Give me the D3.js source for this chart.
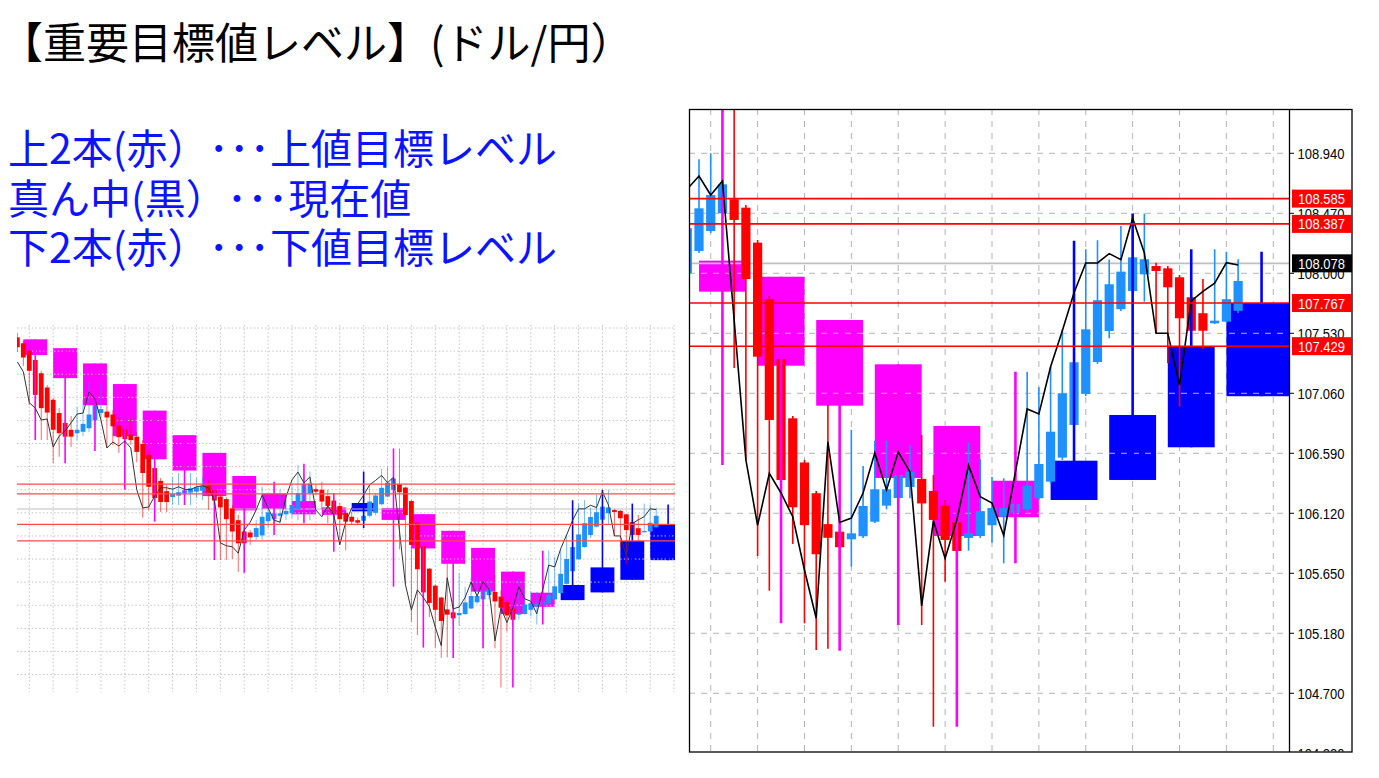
<!DOCTYPE html>
<html><head><meta charset="utf-8">
<script src="https://cdn.jsdelivr.net/npm/d3@7"></script>
<style>body{margin:0;background:#fff;}svg{display:block}</style>
</head><body>
<svg id="c" width="1379" height="778"></svg>
<script>
// ---------------- DATA ----------------
const titleText = "【重要目標値レベル】(ドル/円）";
const noteLines = ["上2本(赤）･･･上値目標レベル", "真ん中(黒）･･･現在値", "下2本(赤）･･･下値目標レベル"];

// bar index of first candle (bars run -2 .. 105)
const firstBar = -2;
const opens = [111.57,111.45,111.30,111.11,110.84,110.55,110.30,110.03,109.83,109.69,109.62,109.65,109.72,109.88,110.03,110.06,110.00,109.77,109.71,109.59,
  109.55,109.40,109.18,108.91,108.65,108.44,108.32,108.35,108.40,108.41,108.43,108.45,108.55,108.47,108.33,108.28,108.09,107.85,107.62,107.60,
  107.51,107.54,107.83,107.87,107.94,107.97,107.99,108.07,108.23,108.40,108.48,108.47,108.34,108.25,108.14,108.00,107.92,107.85,107.84,107.94,
  108.000,108.175,108.331,108.470,108.580,108.514,108.240,107.799,107.329,106.864,106.518,106.277,106.035,105.976,105.916,105.940,106.054,106.180,106.240,106.326,
  106.390,106.295,106.180,106.050,105.927,105.942,106.026,106.093,106.124,106.151,106.238,106.368,106.556,106.812,107.055,107.305,107.548,107.719,107.861,107.992,
  108.057,108.039,107.969,107.812,107.687,107.608,107.621,107.706];
const highs = [111.66,111.50,111.35,111.15,110.89,110.60,110.34,110.13,109.89,109.97,110.15,110.30,110.66,110.40,110.64,110.19,110.09,109.95,109.79,109.93,
  109.64,109.48,109.28,109.03,108.71,108.57,108.73,108.81,108.71,108.81,108.71,108.73,108.67,108.55,108.40,108.32,108.16,107.96,107.69,107.65,
  107.85,108.53,108.26,108.16,108.47,108.36,108.60,108.97,108.80,108.84,108.57,108.63,108.47,108.32,108.20,108.06,108.02,107.90,108.16,108.57,
  108.402,108.893,108.940,108.731,109.310,108.535,108.261,107.822,107.352,106.882,106.538,106.295,106.968,105.997,106.773,106.491,106.689,106.689,106.655,106.655,
  106.733,106.420,106.224,106.107,106.673,106.544,106.407,106.394,106.303,107.229,107.107,107.268,107.561,107.517,108.188,108.259,108.108,108.371,108.339,108.468,
  108.082,108.057,107.987,107.854,107.955,108.188,108.169,108.110];
const lows = [111.27,110.99,110.19,109.99,109.48,109.48,109.01,109.14,109.38,109.34,109.48,109.56,109.64,109.79,109.93,109.32,109.38,109.22,109.38,109.38,
  109.03,107.90,108.06,108.16,108.02,108.02,108.16,108.16,108.26,108.16,108.30,108.26,108.06,108.16,107.04,107.04,107.06,106.80,107.24,107.35,
  107.45,107.45,107.69,107.75,107.79,107.85,107.90,107.85,108.16,107.85,108.36,108.06,107.79,107.85,107.35,107.24,107.75,107.75,107.75,107.90,
  107.948,108.159,108.316,108.457,107.258,106.538,105.786,105.514,106.224,105.880,105.258,105.049,105.059,105.754,105.702,105.927,106.044,106.151,106.224,106.238,
  105.245,104.448,105.584,105.715,105.827,105.927,105.890,105.728,106.068,106.130,106.224,106.350,106.538,106.788,107.039,107.290,107.491,107.705,107.846,107.778,
  107.530,107.295,106.955,106.994,107.407,107.603,107.611,107.689];
const closes = [111.37,111.16,110.89,110.40,110.13,110.04,109.69,109.62,109.55,109.55,109.69,109.81,110.00,110.19,110.11,109.94,109.76,109.54,109.50,109.48,
  109.24,108.81,108.53,108.30,108.22,108.22,108.38,108.42,108.46,108.50,108.52,108.55,108.41,108.25,108.11,107.87,107.62,107.38,107.38,107.50,
  107.69,107.92,108.01,107.99,107.99,108.04,108.16,108.40,108.59,108.59,108.43,108.23,108.14,107.98,107.87,107.82,107.82,107.80,107.94,108.23,
  108.353,108.509,108.613,108.697,108.418,107.955,107.347,106.851,106.381,106.167,106.027,105.799,105.928,105.854,105.963,106.177,106.308,106.308,106.420,106.446,
  106.197,106.068,105.911,105.825,105.963,106.137,106.162,106.162,106.193,106.336,106.506,106.759,107.060,107.303,107.561,107.789,107.914,108.013,108.125,108.110,
  108.018,107.890,107.648,107.550,107.550,107.629,107.797,107.940];
// black line (one value per bar)
const lineValues = [111.07,110.87,110.24,110.13,109.89,109.91,109.34,109.56,109.67,109.83,110.01,110.03,110.46,110.32,109.89,109.32,109.44,109.36,109.46,109.32,
  108.47,108.10,108.12,108.34,108.51,108.51,108.48,108.53,108.48,108.47,108.53,108.55,108.51,108.26,107.39,107.33,107.31,107.18,107.65,107.81,
  108.06,108.36,108.10,107.85,107.81,108.32,108.67,108.83,108.61,108.73,108.06,107.92,108.14,107.96,107.35,107.81,108.10,108.18,108.36,108.57,
  108.660,108.762,108.613,108.723,107.634,106.538,106.025,106.432,106.279,106.093,105.676,105.298,106.679,106.048,106.083,106.279,106.592,106.303,106.600,106.444,
  105.394,106.060,105.768,106.068,106.495,106.250,106.201,105.946,106.444,106.937,106.898,107.268,107.550,107.848,108.081,108.081,108.154,108.107,108.431,108.159,
  107.530,107.530,107.125,107.783,107.859,107.922,108.083,108.065];

// higher-timeframe boxes: first bar, last bar, open, high, low, close
const boxStart = [-1,4,9,14,19,24,29,34,39,44,49,54,59,64,69,74,79,84,89,94,99,104];
const boxEnd   = [3,8,13,18,23,28,33,38,43,48,53,58,63,68,73,78,83,88,93,98,103,110];
const boxOpen  = [111.53,111.35,111.04,110.62,110.08,109.58,109.22,108.75,108.39,108.24,108.11,108.03,108.099,107.973,107.634,107.287,106.804,106.375,106.224,106.381,106.637,107.037];
const boxHigh  = [111.53,111.35,111.04,110.62,110.08,109.58,109.22,108.75,108.63,109.00,108.40,108.84,109.310,107.973,107.634,107.287,106.804,107.229,108.255,108.468,108.188,108.169];
const boxLow   = [109.48,109.01,109.26,108.47,107.82,108.16,107.04,106.78,107.55,107.79,107.21,107.69,106.498,105.258,105.044,105.245,104.448,105.728,106.224,106.381,106.637,107.037];
const boxClose = [111.21,110.74,110.19,109.56,109.09,108.86,108.34,108.05,108.08,107.97,107.96,108.20,107.856,107.276,106.963,106.397,105.942,106.089,106.532,106.890,107.429,107.767];

// target levels and current price
const targetLevels = [108.585, 108.387, 107.767, 107.429];
const targetLabels = ["108.585", "108.387", "107.767", "107.429"];
const currentPrice = 108.078;
const currentLabel = "108.078";

// price axis ticks (large chart)
const priceTicks = [108.94,108.47,108.00,107.53,107.06,106.59,106.12,105.65,105.18,104.71,104.24];
const priceTickLabels = ["108.940","108.470","108.000","107.530","107.060","106.590","106.120","105.650","105.180","104.700","104.230"];
// grid prices for small chart
const smallGridPrices = [111.76,111.29,110.82,110.35,109.88,109.41,108.94,108.47,108.00,107.53,107.06,106.59,106.12,105.65,105.18,104.71];
const bigGridBars = [60,64,68,72,76,80,84,88,92,96,100,104,108];
const smallGridBars = [0,4,8,12,16,20,24,28,32,36,40,44,48,52,56,60,64,68,72,76,80,84,88,92,96,100,104,108];

// ---------------- BUILD ----------------
const bars = opens.map((o, i) => ({i: i + firstBar, o, h: highs[i], l: lows[i], c: closes[i], m: lineValues[i]}));
const boxes = boxStart.map((s, i) => ({s, e: boxEnd[i], o: boxOpen[i], h: boxHigh[i], l: boxLow[i], c: boxClose[i]}));

const svg = d3.select('#c');
const CJK = '"Noto Sans CJK JP","Noto Sans CJK SC",sans-serif';

svg.append('text').attr('x', 0).attr('y', 59).attr('font-family', CJK).attr('font-size', 43)
  .attr('fill', '#000').text(titleText);
const noteY = [164, 214, 263];
noteLines.forEach((t, i) => svg.append('text').attr('x', 8).attr('y', noteY[i]).attr('font-family', CJK)
  .attr('font-size', 41).attr('fill', '#0a14ff').text(t));

const defs = svg.append('defs');

function drawChart(cfg) {
  const {x, y, clip, id, bodyW, wickW, boxWickW, grid, lineW, lineColor, levelW, wickOpacity} = cfg;
  defs.append('clipPath').attr('id', id).append('rect')
    .attr('x', clip[0]).attr('y', clip[1]).attr('width', clip[2] - clip[0]).attr('height', clip[3] - clip[1]);
  const g = svg.append('g').attr('clip-path', `url(#${id})`);

  // vertical grid
  g.append('g').selectAll('line').data(cfg.gridBars).join('line')
    .attr('x1', d => x(d)).attr('x2', d => x(d)).attr('y1', clip[1]).attr('y2', clip[3])
    .attr('stroke', grid.color).attr('stroke-width', 1).attr('stroke-dasharray', grid.dash);

  // boxes (background)
  g.append('g').selectAll('rect').data(boxes).join('rect')
    .attr('x', d => x(d.s)).attr('width', d => x(d.e) - x(d.s))
    .attr('y', d => y(Math.max(d.o, d.c))).attr('height', d => Math.max(1, y(Math.min(d.o, d.c)) - y(Math.max(d.o, d.c))))
    .attr('fill', d => d.c >= d.o ? '#0000ff' : '#ff00ff');

  // horizontal grid
  g.append('g').selectAll('line').data(cfg.gridPrices).join('line')
    .attr('x1', clip[0]).attr('x2', clip[2]).attr('y1', d => y(d)).attr('y2', d => y(d))
    .attr('stroke', grid.color).attr('stroke-width', 1).attr('stroke-dasharray', grid.dash);

  // current price line
  g.append('line').attr('x1', clip[0]).attr('x2', clip[2]).attr('y1', y(currentPrice)).attr('y2', y(currentPrice))
    .attr('stroke', '#c0c0c0').attr('stroke-width', levelW);

  // candles
  const cg = g.append('g');
  cg.selectAll('line').data(bars).join('line')
    .attr('x1', d => x(d.i)).attr('x2', d => x(d.i)).attr('y1', d => y(d.h)).attr('y2', d => y(d.l))
    .attr('stroke', d => d.c >= d.o ? '#1e90ff' : '#ff0000').attr('stroke-width', wickW).attr('stroke-opacity', wickOpacity);
  cg.selectAll('rect').data(bars).join('rect')
    .attr('x', d => x(d.i) - bodyW / 2).attr('width', bodyW)
    .attr('y', d => y(Math.max(d.o, d.c))).attr('height', d => Math.max(1.2, y(Math.min(d.o, d.c)) - y(Math.max(d.o, d.c))))
    .attr('fill', d => d.c >= d.o ? '#1e90ff' : '#ff0000');

  // box wicks
  g.append('g').selectAll('line').data(boxes).join('line')
    .attr('x1', d => x((d.s + d.e) / 2)).attr('x2', d => x((d.s + d.e) / 2))
    .attr('y1', d => y(d.h)).attr('y2', d => y(d.l))
    .attr('stroke', d => d.c >= d.o ? '#0000ff' : '#ff00ff').attr('stroke-width', boxWickW);

  // black line
  g.append('path').datum(bars).attr('fill', 'none').attr('stroke', lineColor).attr('stroke-width', lineW)
    .attr('d', d3.line().x(d => x(d.i)).y(d => y(d.m)));

  // target levels
  g.append('g').selectAll('line').data(targetLevels).join('line')
    .attr('x1', clip[0]).attr('x2', clip[2]).attr('y1', d => y(d)).attr('y2', d => y(d))
    .attr('stroke', cfg.levelColor).attr('stroke-width', levelW);
  return g;
}

// small chart (left)
const xS = d3.scaleLinear().domain([0, 108]).range([29.3, 674.1]);
const yS = d3.scaleLinear().domain([104.71, 108.94]).range([674.54, 466.63]);
drawChart({x: xS, y: yS, clip: [17, 325, 675, 692], id: 'clipS', bodyW: 4.8, wickW: 1, boxWickW: 1.6,
  grid: {color: '#c4c4c4', dash: '1.5,2.2'}, gridBars: smallGridBars, gridPrices: smallGridPrices,
  lineW: 1, lineColor: '#333', levelW: 1.2, levelColor: '#ff4a4a', wickOpacity: 0.6});

// large chart (right)
const xB = d3.scaleLinear().domain([58, 108]).range([687.28, 1273.28]);
const yB = d3.scaleLinear().domain([104.25, 109.287]).range([752, 109]);
drawChart({x: xB, y: yB, clip: [689, 109, 1289, 752], id: 'clipB', bodyW: 9.2, wickW: 1.6, boxWickW: 2.6,
  grid: {color: '#b4b4b4', dash: '6,6'}, gridBars: bigGridBars, gridPrices: priceTicks,
  lineW: 1.6, lineColor: '#000', levelW: 1.6, levelColor: '#ff0000', wickOpacity: 1});

// frame and price axis
svg.append('rect').attr('x', 689.5).attr('y', 109.5).attr('width', 662.5).attr('height', 642.5)
  .attr('fill', 'none').attr('stroke', '#000').attr('stroke-width', 1.3);
svg.append('line').attr('x1', 1289.5).attr('x2', 1289.5).attr('y1', 109).attr('y2', 752)
  .attr('stroke', '#000').attr('stroke-width', 1.3);

defs.append('clipPath').attr('id', 'clipA').append('rect').attr('x', 1290).attr('y', 110).attr('width', 62).attr('height', 641.5);
const ax = svg.append('g').attr('clip-path', 'url(#clipA)').attr('font-family', '"Liberation Sans",Arial,sans-serif').attr('font-size', 15);
ax.selectAll('line.t').data(priceTicks).join('line').attr('class', 't')
  .attr('x1', 1290).attr('x2', 1294).attr('y1', d => yB(d)).attr('y2', d => yB(d)).attr('stroke', '#000');
ax.selectAll('text.t').data(priceTicks).join('text').attr('class', 't')
  .attr('x', 1297.5).attr('y', d => yB(d) + 5.5).attr('fill', '#000')
  .attr('textLength', 47).attr('lengthAdjust', 'spacingAndGlyphs').text((d, i) => priceTickLabels[i]);

// level labels
const levelG = ax.append('g');
const allLevels = targetLevels.map((v, i) => ({v, t: targetLabels[i], f: '#ff0000'})).concat([{v: currentPrice, t: currentLabel, f: '#000'}]);
levelG.selectAll('rect').data(allLevels).join('rect')
  .attr('x', 1292).attr('width', 60).attr('y', d => yB(d.v) - 9).attr('height', 18).attr('fill', d => d.f);
levelG.selectAll('text').data(allLevels).join('text')
  .attr('x', 1298).attr('y', d => yB(d.v) + 5.5).attr('fill', '#fff')
  .attr('textLength', 47).attr('lengthAdjust', 'spacingAndGlyphs').text(d => d.t);
</script>
</body></html>
